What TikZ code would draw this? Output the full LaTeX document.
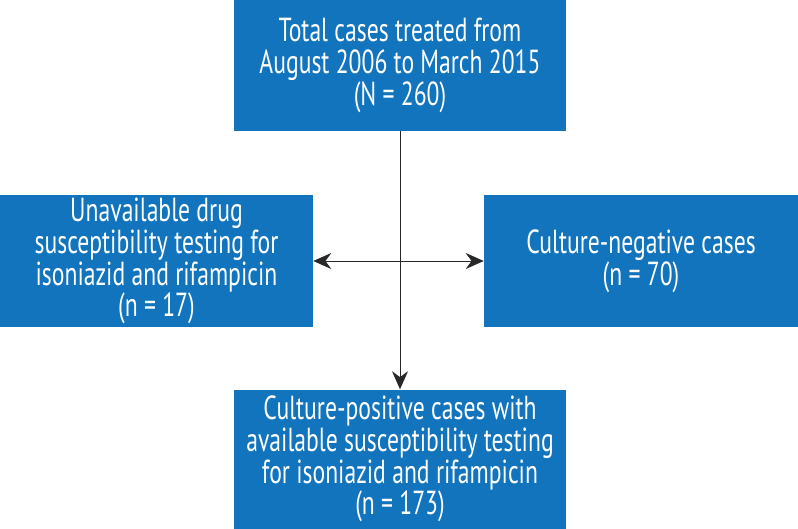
\documentclass[tikz,border=0pt]{standalone}
\usepackage{fontspec}
\setmainfont{PT Sans}[FakeStretch=0.71]
\usepackage{tikz}
\usetikzlibrary{positioning,arrows.meta}

\definecolor{boxblue}{RGB}{17,116,188}
\definecolor{linegray}{RGB}{40,40,40}

\tikzset{
    flowbox/.style={fill=boxblue, text=white, align=center, inner sep=0pt,
        font=\fontsize{25}{23.8}\selectfont},
    flowline/.style={draw=linegray, line width=0.75pt, -{Stealth[length=13.5pt, width=12pt]}}
}

\begin{document}
\begin{tikzpicture}[x=0.75pt, y=-0.75pt]
    \useasboundingbox (0,0) rectangle (798,528);
    \node[flowbox, minimum width=249pt, minimum height=98.25pt] (total) at (400,65.5)
        {Total cases treated from\\August 2006 to March 2015\\(N = 260)};
    \node[flowbox, minimum width=234.75pt, minimum height=99pt] (unavail) at (156.5,261)
        {Unavailable drug\\susceptibility testing for\\isoniazid and rifampicin\\(n = 17)};
    \node[flowbox, minimum width=235.5pt, minimum height=99pt] (negative) at (641,261)
        {Culture-negative cases\\(n = 70)};
    \node[flowbox, below=193.5pt of total, minimum width=249pt, minimum height=104.25pt] (positive)
        {Culture-positive cases with\\available susceptibility testing\\for isoniazid and rifampicin\\(n = 173)};

    \draw[flowline] (total) -- (positive);
    \draw[flowline, {Stealth[length=13.5pt, width=12pt]}-{Stealth[length=13.5pt, width=12pt]}] (unavail) -- (negative);
\end{tikzpicture}
\end{document}
